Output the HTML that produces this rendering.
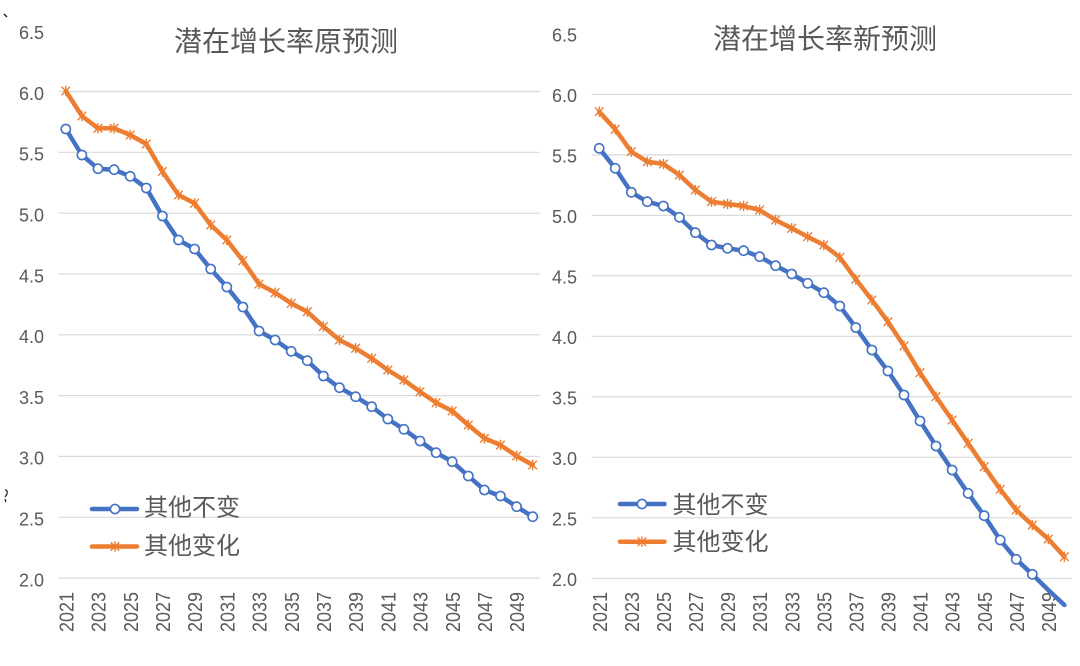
<!DOCTYPE html>
<html>
<head>
<meta charset="utf-8">
<style>
html,body{margin:0;padding:0;background:#fff;}
svg{display:block;}
text{font-family:"Liberation Sans","Noto Sans CJK SC",sans-serif;fill:#595959;}
.yl{font-size:18px;text-anchor:end;}
.xl{font-size:20px;text-anchor:end;}
.tt{font-size:28px;text-anchor:middle;}
.lg{font-size:24px;}
.grid{stroke:#d9d9d9;stroke-width:1.2;}
.bl{fill:none;stroke:#4472C4;stroke-width:4.5;stroke-linejoin:round;stroke-linecap:round;}
.or{fill:none;stroke:#ED7D31;stroke-width:4.5;stroke-linejoin:round;stroke-linecap:round;}
</style>
</head>
<body>
<svg width="1080" height="666" viewBox="0 0 1080 666" xmlns="http://www.w3.org/2000/svg">
<defs>
  <circle id="c" r="4.6" fill="#fff" stroke="#4472C4" stroke-width="1.6"/>
  <g id="s" stroke="#ED7D31" stroke-width="1.4" fill="none">
    <path d="M-4.3,-4.3L4.3,4.3M-4.3,4.3L4.3,-4.3M0,-5.2L0,5.2"/>
  </g>
</defs>

<path d="M4,14 L7,17" stroke="#222" stroke-width="1.5"/>
<path d="M5,490 q3,0 2,4 l-2,3 M5,499 l1,3" stroke="#222" stroke-width="1.3" fill="none"/>

<!-- ============ LEFT CHART ============ -->
<g>
  <line class="grid" x1="58.5" x2="540" y1="91.5" y2="91.5"/>
  <line class="grid" x1="58.5" x2="540" y1="152.3" y2="152.3"/>
  <line class="grid" x1="58.5" x2="540" y1="213.2" y2="213.2"/>
  <line class="grid" x1="58.5" x2="540" y1="274" y2="274"/>
  <line class="grid" x1="58.5" x2="540" y1="334.8" y2="334.8"/>
  <line class="grid" x1="58.5" x2="540" y1="395.6" y2="395.6"/>
  <line class="grid" x1="58.5" x2="540" y1="456.4" y2="456.4"/>
  <line class="grid" x1="58.5" x2="540" y1="517.3" y2="517.3"/>
  <line class="grid" x1="58.5" x2="540" y1="578.1" y2="578.1"/>

  <text class="yl" x="44" y="39">6.5</text>
  <text class="yl" x="44" y="99.8">6.0</text>
  <text class="yl" x="44" y="160.6">5.5</text>
  <text class="yl" x="44" y="221.5">5.0</text>
  <text class="yl" x="44" y="282.3">4.5</text>
  <text class="yl" x="44" y="343.1">4.0</text>
  <text class="yl" x="44" y="403.9">3.5</text>
  <text class="yl" x="44" y="464.7">3.0</text>
  <text class="yl" x="44" y="525.6">2.5</text>
  <text class="yl" x="44" y="586.4">2.0</text>

  <text class="xl" textLength="40" lengthAdjust="spacingAndGlyphs" transform="translate(73.4,592) rotate(-90)">2021</text>
  <text class="xl" textLength="40" lengthAdjust="spacingAndGlyphs" transform="translate(105.6,592) rotate(-90)">2023</text>
  <text class="xl" textLength="40" lengthAdjust="spacingAndGlyphs" transform="translate(137.8,592) rotate(-90)">2025</text>
  <text class="xl" textLength="40" lengthAdjust="spacingAndGlyphs" transform="translate(170,592) rotate(-90)">2027</text>
  <text class="xl" textLength="40" lengthAdjust="spacingAndGlyphs" transform="translate(202.2,592) rotate(-90)">2029</text>
  <text class="xl" textLength="40" lengthAdjust="spacingAndGlyphs" transform="translate(234.4,592) rotate(-90)">2031</text>
  <text class="xl" textLength="40" lengthAdjust="spacingAndGlyphs" transform="translate(266.6,592) rotate(-90)">2033</text>
  <text class="xl" textLength="40" lengthAdjust="spacingAndGlyphs" transform="translate(298.8,592) rotate(-90)">2035</text>
  <text class="xl" textLength="40" lengthAdjust="spacingAndGlyphs" transform="translate(331,592) rotate(-90)">2037</text>
  <text class="xl" textLength="40" lengthAdjust="spacingAndGlyphs" transform="translate(363.2,592) rotate(-90)">2039</text>
  <text class="xl" textLength="40" lengthAdjust="spacingAndGlyphs" transform="translate(395.4,592) rotate(-90)">2041</text>
  <text class="xl" textLength="40" lengthAdjust="spacingAndGlyphs" transform="translate(427.6,592) rotate(-90)">2043</text>
  <text class="xl" textLength="40" lengthAdjust="spacingAndGlyphs" transform="translate(459.8,592) rotate(-90)">2045</text>
  <text class="xl" textLength="40" lengthAdjust="spacingAndGlyphs" transform="translate(492,592) rotate(-90)">2047</text>
  <text class="xl" textLength="40" lengthAdjust="spacingAndGlyphs" transform="translate(524.2,592) rotate(-90)">2049</text>

  <text class="tt" x="286" y="51">潜在增长率原预测</text>

  <polyline class="or" points="65.8,91 81.9,116 98,128.3 114.1,128.3 130.2,135 146.3,144 162.4,171.5 178.5,195 194.6,203.3 210.7,225 226.8,240 242.9,260.7 259,284 275.1,292.7 291.2,303.3 307.3,311.7 323.4,326.5 339.5,340 355.6,348.3 371.7,358.3 387.8,370 403.9,380 420,391.7 436.1,402.7 452.2,411 468.3,425 484.4,438.3 500.5,445 516.6,456 532.7,465"/>
  <g>
    <use href="#s" x="65.8" y="91"/><use href="#s" x="81.9" y="116"/><use href="#s" x="98" y="128.3"/><use href="#s" x="114.1" y="128.3"/><use href="#s" x="130.2" y="135"/><use href="#s" x="146.3" y="144"/><use href="#s" x="162.4" y="171.5"/><use href="#s" x="178.5" y="195"/><use href="#s" x="194.6" y="203.3"/><use href="#s" x="210.7" y="225"/><use href="#s" x="226.8" y="240"/><use href="#s" x="242.9" y="260.7"/><use href="#s" x="259" y="284"/><use href="#s" x="275.1" y="292.7"/><use href="#s" x="291.2" y="303.3"/><use href="#s" x="307.3" y="311.7"/><use href="#s" x="323.4" y="326.5"/><use href="#s" x="339.5" y="340"/><use href="#s" x="355.6" y="348.3"/><use href="#s" x="371.7" y="358.3"/><use href="#s" x="387.8" y="370"/><use href="#s" x="403.9" y="380"/><use href="#s" x="420" y="391.7"/><use href="#s" x="436.1" y="402.7"/><use href="#s" x="452.2" y="411"/><use href="#s" x="468.3" y="425"/><use href="#s" x="484.4" y="438.3"/><use href="#s" x="500.5" y="445"/><use href="#s" x="516.6" y="456"/><use href="#s" x="532.7" y="465"/>
  </g>

  <polyline class="bl" points="65.8,129 81.9,155 98,168.7 114.1,169.7 130.2,176.3 146.3,188 162.4,216 178.5,240 194.6,249 210.7,269 226.8,287 242.9,307 259,331 275.1,340 291.2,351.3 307.3,360.7 323.4,376 339.5,387.7 355.6,396.7 371.7,406.7 387.8,419 403.9,429.3 420,441 436.1,452.7 452.2,461.7 468.3,476 484.4,490 500.5,496 516.6,506.7 532.7,516.7"/>
  <g>
    <use href="#c" x="65.8" y="129"/><use href="#c" x="81.9" y="155"/><use href="#c" x="98" y="168.7"/><use href="#c" x="114.1" y="169.7"/><use href="#c" x="130.2" y="176.3"/><use href="#c" x="146.3" y="188"/><use href="#c" x="162.4" y="216"/><use href="#c" x="178.5" y="240"/><use href="#c" x="194.6" y="249"/><use href="#c" x="210.7" y="269"/><use href="#c" x="226.8" y="287"/><use href="#c" x="242.9" y="307"/><use href="#c" x="259" y="331"/><use href="#c" x="275.1" y="340"/><use href="#c" x="291.2" y="351.3"/><use href="#c" x="307.3" y="360.7"/><use href="#c" x="323.4" y="376"/><use href="#c" x="339.5" y="387.7"/><use href="#c" x="355.6" y="396.7"/><use href="#c" x="371.7" y="406.7"/><use href="#c" x="387.8" y="419"/><use href="#c" x="403.9" y="429.3"/><use href="#c" x="420" y="441"/><use href="#c" x="436.1" y="452.7"/><use href="#c" x="452.2" y="461.7"/><use href="#c" x="468.3" y="476"/><use href="#c" x="484.4" y="490"/><use href="#c" x="500.5" y="496"/><use href="#c" x="516.6" y="506.7"/><use href="#c" x="532.7" y="516.7"/>
  </g>

  <line x1="92" x2="137" y1="509" y2="509" stroke="#4472C4" stroke-width="4.5" stroke-linecap="round"/>
  <use href="#c" x="115" y="509"/>
  <text class="lg" x="144" y="515.6">其他不变</text>
  <line x1="92" x2="137" y1="546.5" y2="546.5" stroke="#ED7D31" stroke-width="4.5" stroke-linecap="round"/>
  <use href="#s" x="115" y="546.5"/>
  <text class="lg" x="144" y="554">其他变化</text>
</g>

<!-- ============ RIGHT CHART ============ -->
<g>
  <line class="grid" x1="591.5" x2="1072" y1="94.4" y2="94.4"/>
  <line class="grid" x1="591.5" x2="1072" y1="154.9" y2="154.9"/>
  <line class="grid" x1="591.5" x2="1072" y1="215.4" y2="215.4"/>
  <line class="grid" x1="591.5" x2="1072" y1="275.8" y2="275.8"/>
  <line class="grid" x1="591.5" x2="1072" y1="336.3" y2="336.3"/>
  <line class="grid" x1="591.5" x2="1072" y1="396.8" y2="396.8"/>
  <line class="grid" x1="591.5" x2="1072" y1="457.3" y2="457.3"/>
  <line class="grid" x1="591.5" x2="1072" y1="517.8" y2="517.8"/>
  <line class="grid" x1="591.5" x2="1072" y1="578.3" y2="578.3"/>

  <text class="yl" x="577" y="41.4">6.5</text>
  <text class="yl" x="577" y="101.9">6.0</text>
  <text class="yl" x="577" y="162.4">5.5</text>
  <text class="yl" x="577" y="222.9">5.0</text>
  <text class="yl" x="577" y="283.3">4.5</text>
  <text class="yl" x="577" y="343.8">4.0</text>
  <text class="yl" x="577" y="404.3">3.5</text>
  <text class="yl" x="577" y="464.8">3.0</text>
  <text class="yl" x="577" y="525.3">2.5</text>
  <text class="yl" x="577" y="585.8">2.0</text>

  <text class="xl" textLength="40" lengthAdjust="spacingAndGlyphs" transform="translate(606.8,592) rotate(-90)">2021</text>
  <text class="xl" textLength="40" lengthAdjust="spacingAndGlyphs" transform="translate(638.9,592) rotate(-90)">2023</text>
  <text class="xl" textLength="40" lengthAdjust="spacingAndGlyphs" transform="translate(671,592) rotate(-90)">2025</text>
  <text class="xl" textLength="40" lengthAdjust="spacingAndGlyphs" transform="translate(703,592) rotate(-90)">2027</text>
  <text class="xl" textLength="40" lengthAdjust="spacingAndGlyphs" transform="translate(735.1,592) rotate(-90)">2029</text>
  <text class="xl" textLength="40" lengthAdjust="spacingAndGlyphs" transform="translate(767.2,592) rotate(-90)">2031</text>
  <text class="xl" textLength="40" lengthAdjust="spacingAndGlyphs" transform="translate(799.3,592) rotate(-90)">2033</text>
  <text class="xl" textLength="40" lengthAdjust="spacingAndGlyphs" transform="translate(831.4,592) rotate(-90)">2035</text>
  <text class="xl" textLength="40" lengthAdjust="spacingAndGlyphs" transform="translate(863.4,592) rotate(-90)">2037</text>
  <text class="xl" textLength="40" lengthAdjust="spacingAndGlyphs" transform="translate(895.5,592) rotate(-90)">2039</text>
  <text class="xl" textLength="40" lengthAdjust="spacingAndGlyphs" transform="translate(927.6,592) rotate(-90)">2041</text>
  <text class="xl" textLength="40" lengthAdjust="spacingAndGlyphs" transform="translate(959.7,592) rotate(-90)">2043</text>
  <text class="xl" textLength="40" lengthAdjust="spacingAndGlyphs" transform="translate(991.8,592) rotate(-90)">2045</text>
  <text class="xl" textLength="40" lengthAdjust="spacingAndGlyphs" transform="translate(1023.8,592) rotate(-90)">2047</text>
  <text class="xl" textLength="40" lengthAdjust="spacingAndGlyphs" transform="translate(1055.9,592) rotate(-90)">2049</text>

  <text class="tt" x="825" y="48.6">潜在增长率新预测</text>

  <polyline class="or" points="599.2,111.7 615.2,129.3 631.3,151.7 647.3,161.7 663.4,164 679.4,175 695.4,190 711.5,201.7 727.5,204 743.6,206 759.6,210 775.6,220 791.7,228.3 807.7,236.7 823.8,245 839.8,257.3 855.8,279.3 871.9,300 887.9,321.7 904,346 920,372.7 936,396.7 952.1,420 968.1,443.3 984.2,466.7 1000.2,489.3 1016.2,510 1032.3,525 1048.3,539 1064.4,556.7"/>
  <g>
    <use href="#s" x="599.2" y="111.7"/><use href="#s" x="615.2" y="129.3"/><use href="#s" x="631.3" y="151.7"/><use href="#s" x="647.3" y="161.7"/><use href="#s" x="663.4" y="164"/><use href="#s" x="679.4" y="175"/><use href="#s" x="695.4" y="190"/><use href="#s" x="711.5" y="201.7"/><use href="#s" x="727.5" y="204"/><use href="#s" x="743.6" y="206"/><use href="#s" x="759.6" y="210"/><use href="#s" x="775.6" y="220"/><use href="#s" x="791.7" y="228.3"/><use href="#s" x="807.7" y="236.7"/><use href="#s" x="823.8" y="245"/><use href="#s" x="839.8" y="257.3"/><use href="#s" x="855.8" y="279.3"/><use href="#s" x="871.9" y="300"/><use href="#s" x="887.9" y="321.7"/><use href="#s" x="904" y="346"/><use href="#s" x="920" y="372.7"/><use href="#s" x="936" y="396.7"/><use href="#s" x="952.1" y="420"/><use href="#s" x="968.1" y="443.3"/><use href="#s" x="984.2" y="466.7"/><use href="#s" x="1000.2" y="489.3"/><use href="#s" x="1016.2" y="510"/><use href="#s" x="1032.3" y="525"/><use href="#s" x="1048.3" y="539"/><use href="#s" x="1064.4" y="556.7"/>
  </g>

  <polyline class="bl" points="599.2,148.3 615.2,168.3 631.3,192.3 647.3,201.7 663.4,206 679.4,217.3 695.4,232.7 711.5,245 727.5,248.3 743.6,250.7 759.6,256.7 775.6,265.7 791.7,274 807.7,283.3 823.8,292.7 839.8,306 855.8,327.5 871.9,350 887.9,371 904,395 920,421 936,446 952.1,470 968.1,493.3 984.2,515.7 1000.2,540 1016.2,559.3 1032.3,574.3 1048.3,590 1064.4,605"/>
  <g>
    <use href="#c" x="599.2" y="148.3"/><use href="#c" x="615.2" y="168.3"/><use href="#c" x="631.3" y="192.3"/><use href="#c" x="647.3" y="201.7"/><use href="#c" x="663.4" y="206"/><use href="#c" x="679.4" y="217.3"/><use href="#c" x="695.4" y="232.7"/><use href="#c" x="711.5" y="245"/><use href="#c" x="727.5" y="248.3"/><use href="#c" x="743.6" y="250.7"/><use href="#c" x="759.6" y="256.7"/><use href="#c" x="775.6" y="265.7"/><use href="#c" x="791.7" y="274"/><use href="#c" x="807.7" y="283.3"/><use href="#c" x="823.8" y="292.7"/><use href="#c" x="839.8" y="306"/><use href="#c" x="855.8" y="327.5"/><use href="#c" x="871.9" y="350"/><use href="#c" x="887.9" y="371"/><use href="#c" x="904" y="395"/><use href="#c" x="920" y="421"/><use href="#c" x="936" y="446"/><use href="#c" x="952.1" y="470"/><use href="#c" x="968.1" y="493.3"/><use href="#c" x="984.2" y="515.7"/><use href="#c" x="1000.2" y="540"/><use href="#c" x="1016.2" y="559.3"/><use href="#c" x="1032.3" y="574.3"/>
  </g>

  <line x1="620" x2="664.5" y1="504" y2="504" stroke="#4472C4" stroke-width="4.5" stroke-linecap="round"/>
  <use href="#c" x="642" y="504"/>
  <text class="lg" x="672.5" y="512.8">其他不变</text>
  <line x1="620" x2="664.5" y1="541.7" y2="541.7" stroke="#ED7D31" stroke-width="4.5" stroke-linecap="round"/>
  <use href="#s" x="642" y="541.7"/>
  <text class="lg" x="672.5" y="550">其他变化</text>
</g>
</svg>
</body>
</html>
